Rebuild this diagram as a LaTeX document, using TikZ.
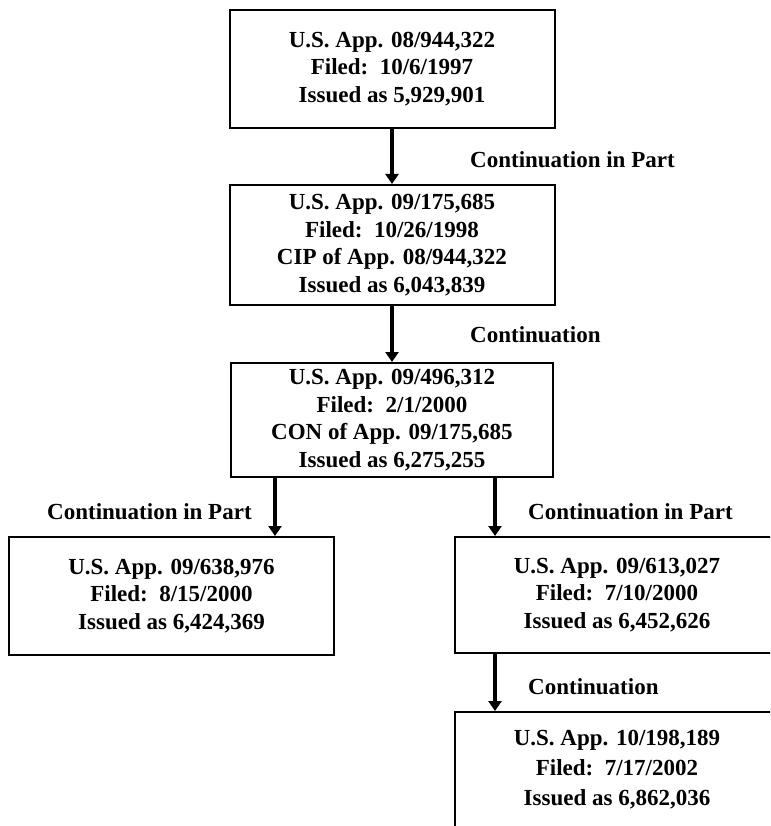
\documentclass[tikz,border=0pt]{standalone}
\usepackage{fontspec}
\setmainfont{Liberation Serif}
\usetikzlibrary{arrows.meta}

\tikzset{
  appbox/.style={draw=black, line width=2pt, minimum width=325pt,
    align=center, inner sep=0pt, font=\bfseries\fontsize{23}{27.5}\selectfont},
  link/.style={line width=3.5pt, -{Triangle[width=13pt,length=10pt]}},
  linklabel/.style={anchor=west, inner sep=0pt,
    font=\bfseries\fontsize{23}{27.5}\selectfont}
}

\begin{document}
\begin{tikzpicture}[x=1pt,y=1pt]
  \useasboundingbox (0,0) rectangle (770,-826);
  \clip (0,0) rectangle (770,-826);

  % application boxes
  \node[appbox, minimum height=118pt] (b1) at (392,-69)
    {U.S. App. 08/944,322\\Filed:\ \ 10/6/1997\\Issued as 5,929,901};
  \node[appbox, minimum height=120pt] (b2) at (392,-245)
    {U.S. App. 09/175,685\\Filed:\ \ 10/26/1998\\CIP of App. 08/944,322\\Issued as 6,043,839};
  \node[appbox, minimum height=114pt, minimum width=322pt] (b3) at (392,-420)
    {U.S. App. 09/496,312\\Filed:\ \ 2/1/2000\\CON of App. 09/175,685\\Issued as 6,275,255};
  \node[appbox, minimum height=118pt] (b4) at (171.5,-596)
    {U.S. App. 09/638,976\\Filed:\ \ 8/15/2000\\Issued as 6,424,369};
  \node[appbox, minimum height=116pt] (b5) at (617,-595)
    {U.S. App. 09/613,027\\Filed:\ \ 7/10/2000\\Issued as 6,452,626};
  \node[appbox, minimum height=116pt, font=\bfseries\fontsize{23}{30}\selectfont] (b6) at (617,-770)
    {U.S. App. 10/198,189\\Filed:\ \ 7/17/2002\\Issued as 6,862,036};

  % connectors
  \draw[link] (b1.south) -- (b2.north);
  \draw[link] (b2.south) -- (b3.north);
  \draw[link] ([xshift=-117pt]b3.south) -- ([xshift=103.5pt]b4.north);
  \draw[link] ([xshift=103pt]b3.south) -- ([xshift=-122pt]b5.north);
  \draw[link] ([xshift=-122pt]b5.south) -- ([xshift=-122pt]b6.north);

  % connector labels
  \node[linklabel] (l1) at (470,-160) {Continuation in Part};
  \node[linklabel] (l2) at (470,-335) {Continuation};
  \node[linklabel] (l3) at (47,-512)  {Continuation in Part};
  \node[linklabel] (l4) at (528,-512) {Continuation in Part};
  \node[linklabel] (l5) at (528,-687) {Continuation};
\end{tikzpicture}
\end{document}
